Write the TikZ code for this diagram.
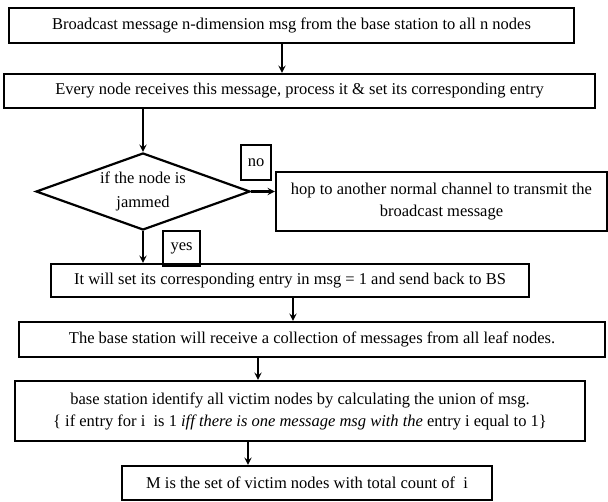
\documentclass[tikz,border=0pt]{standalone}
\usepackage{fontspec}
\setmainfont{Liberation Serif}
\usetikzlibrary{arrows,shapes,positioning}

\tikzset{
  flowbox/.style={draw,line width=2.2pt,rectangle,inner sep=0pt,align=center,
                  font=\fontsize{16.5}{22}\selectfont},
  flowtest/.style={draw,line width=2.2pt,diamond,aspect=2.78,inner sep=0pt,align=center,
                   font=\fontsize{16.5}{24}\selectfont},
  flowlabel/.style={draw,line width=2.2pt,rectangle,inner sep=0pt,
                    font=\fontsize{16.5}{18}\selectfont},
  flowarrow/.style={->,>=stealth,line width=2.2pt}
}

\begin{document}
\begin{tikzpicture}[x=1pt,y=-1pt]
\useasboundingbox (0,0) rectangle (608,502);
% boxes of the flow
\node[flowbox,minimum width=565pt,minimum height=35pt] (bcast) at (291.5,25.5)
  {Broadcast message n-dimension msg from the base station to all n nodes};
\node[flowbox,minimum width=591pt,minimum height=34pt] (recv) at (299.5,91)
  {Every node receives this message, process it \& set its corresponding entry};
\node[flowtest,minimum width=214pt,minimum height=77pt] (jam) at (143,191.5)
  {if the node is\\jammed};
\node[flowbox,minimum width=331pt,minimum height=59pt] (hop) at (441.5,201.5)
  {hop to another normal channel to transmit the\\broadcast message};
\node[flowlabel,minimum width=30pt,minimum height=35pt] (no) at (256,162.5) {no};
\node[flowlabel,minimum width=37pt,minimum height=35pt] (yes) at (181.5,248.5) {yes};
\node[flowbox,minimum width=478pt,minimum height=33pt] (setent) at (290,280.5)
  {It will set its corresponding entry in msg = 1 and send back to BS};
\node[flowbox,minimum width=586pt,minimum height=35pt] (collect) at (312,339.5)
  {The base station will receive a collection of messages from all leaf nodes.};
\node[flowbox,minimum width=570pt,minimum height=60pt] (union) at (300,411)
  {base station identify all victim nodes by calculating the union of msg.\\
   \{ if entry for i~ is 1 \textit{iff there is one message msg with the} entry i equal to 1\}};
\node[flowbox,minimum width=370pt,minimum height=34pt] (victims) at (307,483)
  {M is the set of victim nodes with total count of~ i};
% connectors
\draw[flowarrow] ([xshift=-9.5pt]bcast.south) -- ([xshift=-9.5pt]bcast.south |- recv.north);
\draw[flowarrow] (recv.south -| jam.north) -- (jam.north);
\draw[flowarrow] (jam.east) -- (jam.east -| hop.west);
\draw[flowarrow] (jam.south) -- (jam.south |- setent.north);
\draw[flowarrow] ([xshift=3pt]setent.south) -- ([xshift=3pt]setent.south |- collect.north);
\draw[flowarrow] ([xshift=-54pt]collect.south) -- ([xshift=-54pt]collect.south |- union.north);
\draw[flowarrow] ([xshift=-52pt]union.south) -- ([xshift=-52pt]union.south |- victims.north);
\end{tikzpicture}
\end{document}
